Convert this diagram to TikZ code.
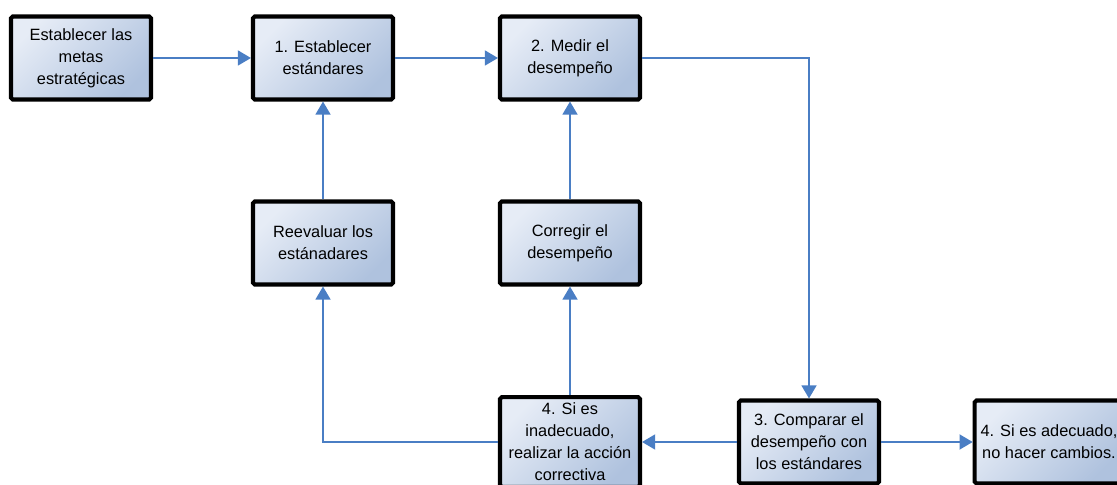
\documentclass[tikz,border=0pt]{standalone}
\usepackage{fontspec}
\setmainfont{Liberation Sans}
\usetikzlibrary{arrows.meta}
\definecolor{boxlight}{HTML}{E6ECF6}
\definecolor{boxdark}{HTML}{AFC2DE}
\definecolor{flowblue}{HTML}{4A7EC4}
\tikzset{
    etapa/.style={draw=black, line width=2.3pt, rounded corners=1pt,
        top color=boxlight, bottom color=boxdark, shading angle=45,
        minimum width=2.8cm, minimum height=1.66cm, align=center,
        font=\fontsize{9.3}{12.5}\selectfont},
    flujo/.style={draw=flowblue, line width=1.2pt, -{Triangle[length=7.5pt,width=8.5pt]}}
}
\begin{document}
\begin{tikzpicture}
    \useasboundingbox (0,0) rectangle (22.34,9.7);
    \clip (0,0) rectangle (22.34,9.7);
    \node[etapa] (metas) at (1.62,8.54) {Establecer las\\metas\\estratégicas};
    \node[etapa] (est) at (6.46,8.54) {1. Establecer\\estándares};
    \node[etapa] (medir) at (11.4,8.54) {2. Medir el\\desempeño};
    \node[etapa] (reev) at (6.46,4.84) {Reevaluar los\\estánadares};
    \node[etapa] (corr) at (11.4,4.84) {Corregir el\\desempeño};
    \node[etapa] (inad) at (11.4,0.86) {4. Si es\\inadecuado,\\realizar la acción\\correctiva};
    \node[etapa] (comp) at (16.18,0.86) {3. Comparar el\\desempeño con\\los estándares};
    \node[etapa] (adec) at (20.98,0.86) {4. Si es adecuado,\\no hacer cambios.};
    \draw[flujo] (metas) -- (est);
    \draw[flujo] (est) -- (medir);
    \draw[flujo] (medir.east) -| (comp.north);
    \draw[flujo] (comp) -- (inad);
    \draw[flujo] (inad.west) -| (reev.south);
    \draw[flujo] (inad) -- (corr);
    \draw[flujo] (corr) -- (medir);
    \draw[flujo] (reev) -- (est);
    \draw[flujo] (comp) -- (adec);
\end{tikzpicture}
\end{document}
